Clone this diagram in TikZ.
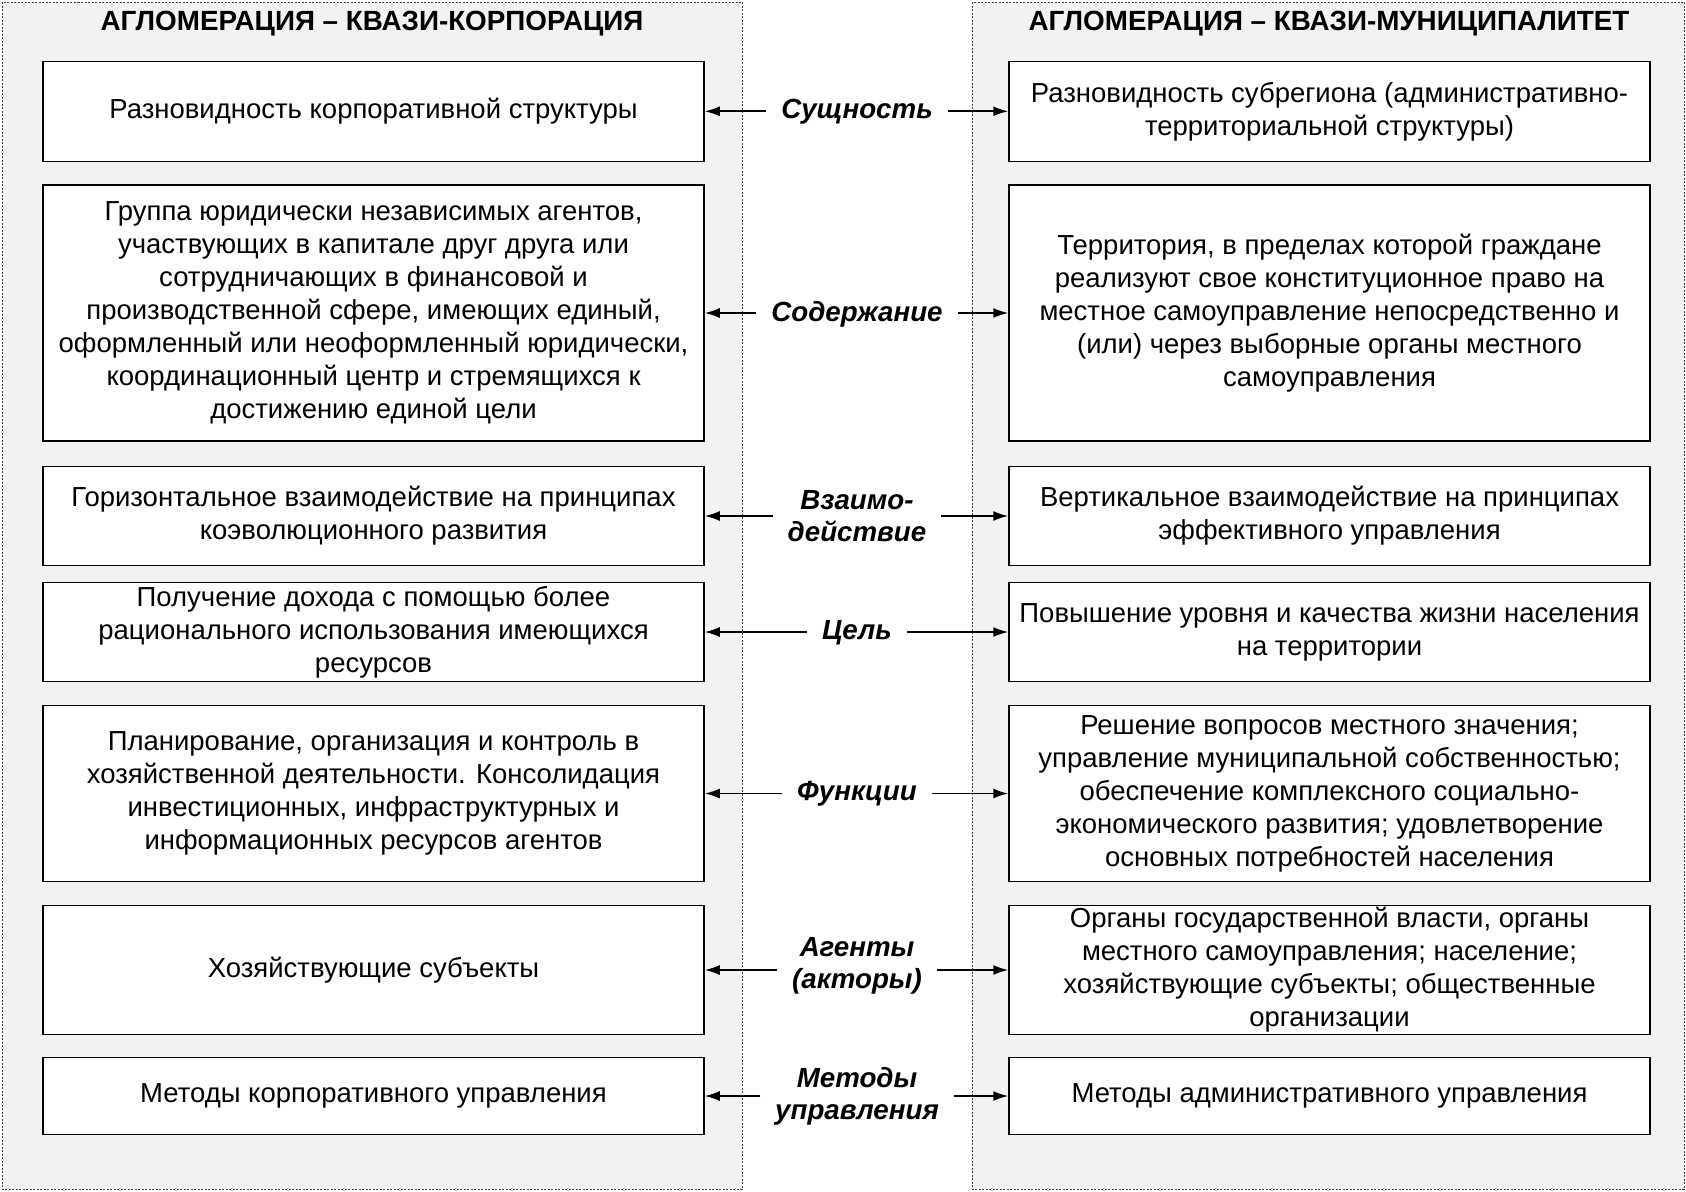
\documentclass[tikz,border=0pt]{standalone}
\usepackage{fontspec}
\setmainfont{Liberation Sans}
\usetikzlibrary{arrows.meta}
\begin{document}
\begin{tikzpicture}[x=1pt,y=-1pt,
  panel/.style={draw=black!75, fill=black!5, line width=1pt, dash pattern=on 2pt off 1.5pt},
  box/.style={draw=black, fill=white, line width=1.5pt, align=center, inner sep=0pt,
    font=\fontsize{27.5}{33}\selectfont},
  lbox/.style={box, minimum width=661pt},
  rbox/.style={box, minimum width=641pt},
  lab/.style={font=\fontsize{27.7}{32}\selectfont\bfseries\itshape, align=center, inner xsep=15pt, inner ysep=0pt},
  ttl/.style={font=\fontsize{27.8}{32}\selectfont\bfseries},
  conn/.style={-{Latex[length=15pt,width=10pt]}, line width=1.7pt}
]
\useasboundingbox (0,0) rectangle (1686,1191);
\fill[white] (0,0) rectangle (1686,1191);
\path[panel] (2,2) rectangle (742,1189);
\path[panel] (972,2) rectangle (1684,1189);
\node[ttl] (t1) at (372,24) {АГЛОМЕРАЦИЯ – КВАЗИ-КОРПОРАЦИЯ};
\node[ttl] (t2) at (1329,24) {АГЛОМЕРАЦИЯ – КВАЗИ-МУНИЦИПАЛИТЕТ};

% left boxes
\node[lbox, minimum height=100pt] (l1) at (373.5,111.3) {Разновидность корпоративной структуры};
\node[lbox, minimum height=256pt] (l2) at (373.5,313) {Группа юридически независимых агентов,\\участвующих в капитале друг друга или\\сотрудничающих в финансовой и\\производственной сфере, имеющих единый,\\оформленный или неоформленный юридически,\\координационный центр и стремящихся к\\достижению единой цели};
\node[lbox, minimum height=99pt] (l3) at (373.5,516) {Горизонтальное взаимодействие на принципах\\коэволюционного развития};
\node[lbox, minimum height=99pt] (l4) at (373.5,632) {Получение дохода с помощью более\\рационального использования имеющихся\\ресурсов};
\node[lbox, minimum height=176pt] (l5) at (373.5,793.5) {Планирование, организация и контроль в\\хозяйственной деятельности. Консолидация\\инвестиционных, инфраструктурных и\\информационных ресурсов агентов};
\node[lbox, minimum height=129pt] (l6) at (373.5,970) {Хозяйствующие субъекты};
\node[lbox, minimum height=77pt] (l7) at (373.5,1096) {Методы корпоративного управления};

% right boxes
\node[rbox, minimum height=100pt] (r1) at (1329.5,111.3) {Разновидность субрегиона (административно-\\территориальной структуры)};
\node[rbox, minimum height=256pt] (r2) at (1329.5,313) {Территория, в пределах которой граждане\\реализуют свое конституционное право на\\местное самоуправление непосредственно и\\(или) через выборные органы местного\\самоуправления};
\node[rbox, minimum height=99pt] (r3) at (1329.5,516) {Вертикальное взаимодействие на принципах\\эффективного управления};
\node[rbox, minimum height=99pt] (r4) at (1329.5,632) {Повышение уровня и качества жизни населения\\на территории};
\node[rbox, minimum height=176pt] (r5) at (1329.5,793.5) {Решение вопросов местного значения;\\управление муниципальной собственностью;\\обеспечение комплексного социально-\\экономического развития; удовлетворение\\основных потребностей населения};
\node[rbox, minimum height=129pt] (r6) at (1329.5,970) {Органы государственной власти, органы\\местного самоуправления; население;\\хозяйствующие субъекты; общественные\\организации};
\node[rbox, minimum height=77pt] (r7) at (1329.5,1096) {Методы административного управления};

% labels
\node[lab] (c1) at (857,112) {Сущность};
\node[lab] (c2) at (857,314) {Содержание};
\node[lab] (c3) at (857,516) {Взаимо-\\действие};
\node[lab] (c4) at (857,633) {Цель};
\node[lab] (c5) at (857,794) {Функции};
\node[lab] (c6) at (857,966) {Агенты\\(акторы)};
\node[lab] (c7) at (857,1096) {Методы\\управления};

\foreach \i in {1,...,7}{
  \draw[conn] (c\i.west |- l\i.east) -- (l\i.east);
  \draw[conn] (c\i.east |- r\i.west) -- (r\i.west);
}
\end{tikzpicture}
\end{document}
